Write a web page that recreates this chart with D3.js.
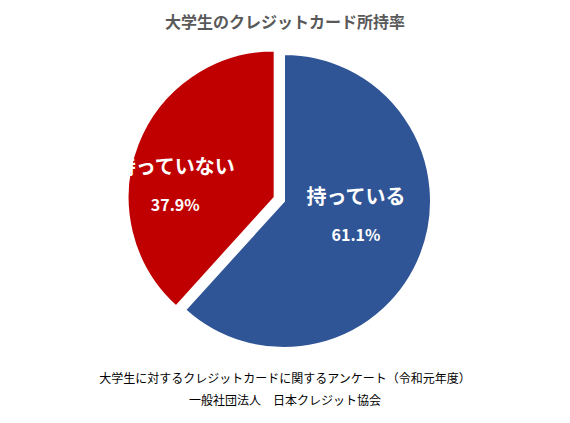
<!DOCTYPE html><html><head><meta charset="utf-8"><script src="https://cdn.jsdelivr.net/npm/d3@7"></script>
<style>body{margin:0;background:#fff}text{font-family:"Noto Sans CJK JP",sans-serif}</style></head><body>
<script>
const categories=["持っている","持っていない"];
const values=[61.1,37.9];
const colors=["#2F5597","#C00000"];
const title="大学生のクレジットカード所持率";
const notes=["大学生に対するクレジットカードに関するアンケート（令和元年度）","一般社団法人　日本クレジット協会"];
const svg=d3.select("body").append("svg").attr("width",570).attr("height",423);
svg.append("text").attr("x",285).attr("y",28).attr("text-anchor","middle").attr("font-size",16).attr("font-weight","bold").attr("fill","#595959").text(title);
const cx=284,cy=201,r=147;
const pie=d3.pie().sort(null)(values);
const arc=d3.arc().innerRadius(0).outerRadius(r);
const g=svg.append("g").attr("transform",`translate(${cx},${cy})`);
pie.forEach((d,i)=>{
  const m=(d.startAngle+d.endAngle)/2, off=i===1?10:0;
  const gg=g.append("g").attr("transform",`translate(${Math.sin(m)*off},${-Math.cos(m)*off})`);
  gg.append("path").attr("d",arc(d)).attr("fill",colors[i]).attr("stroke","#fff").attr("stroke-width",2);
  const lr=r*0.5;
  const lx=Math.sin(m)*lr*(i===0?1.05:1.45), ly=-Math.cos(m)*lr*(i===0?0.1:0.9);
  gg.append("text").attr("x",lx).attr("y",ly).attr("text-anchor","middle").attr("font-size",20).attr("font-weight","bold").attr("fill","#fff").text(categories[i]);
  gg.append("text").attr("x",lx).attr("y",ly+37).attr("text-anchor","middle").attr("font-size",16).attr("font-weight","bold").attr("fill","#fff").text(values[i].toFixed(1)+"%");
});
notes.forEach((t,i)=>svg.append("text").attr("x",285).attr("y",383+i*22).attr("text-anchor","middle").attr("font-size",12).attr("fill","#000").text(t));
</script></body></html>
